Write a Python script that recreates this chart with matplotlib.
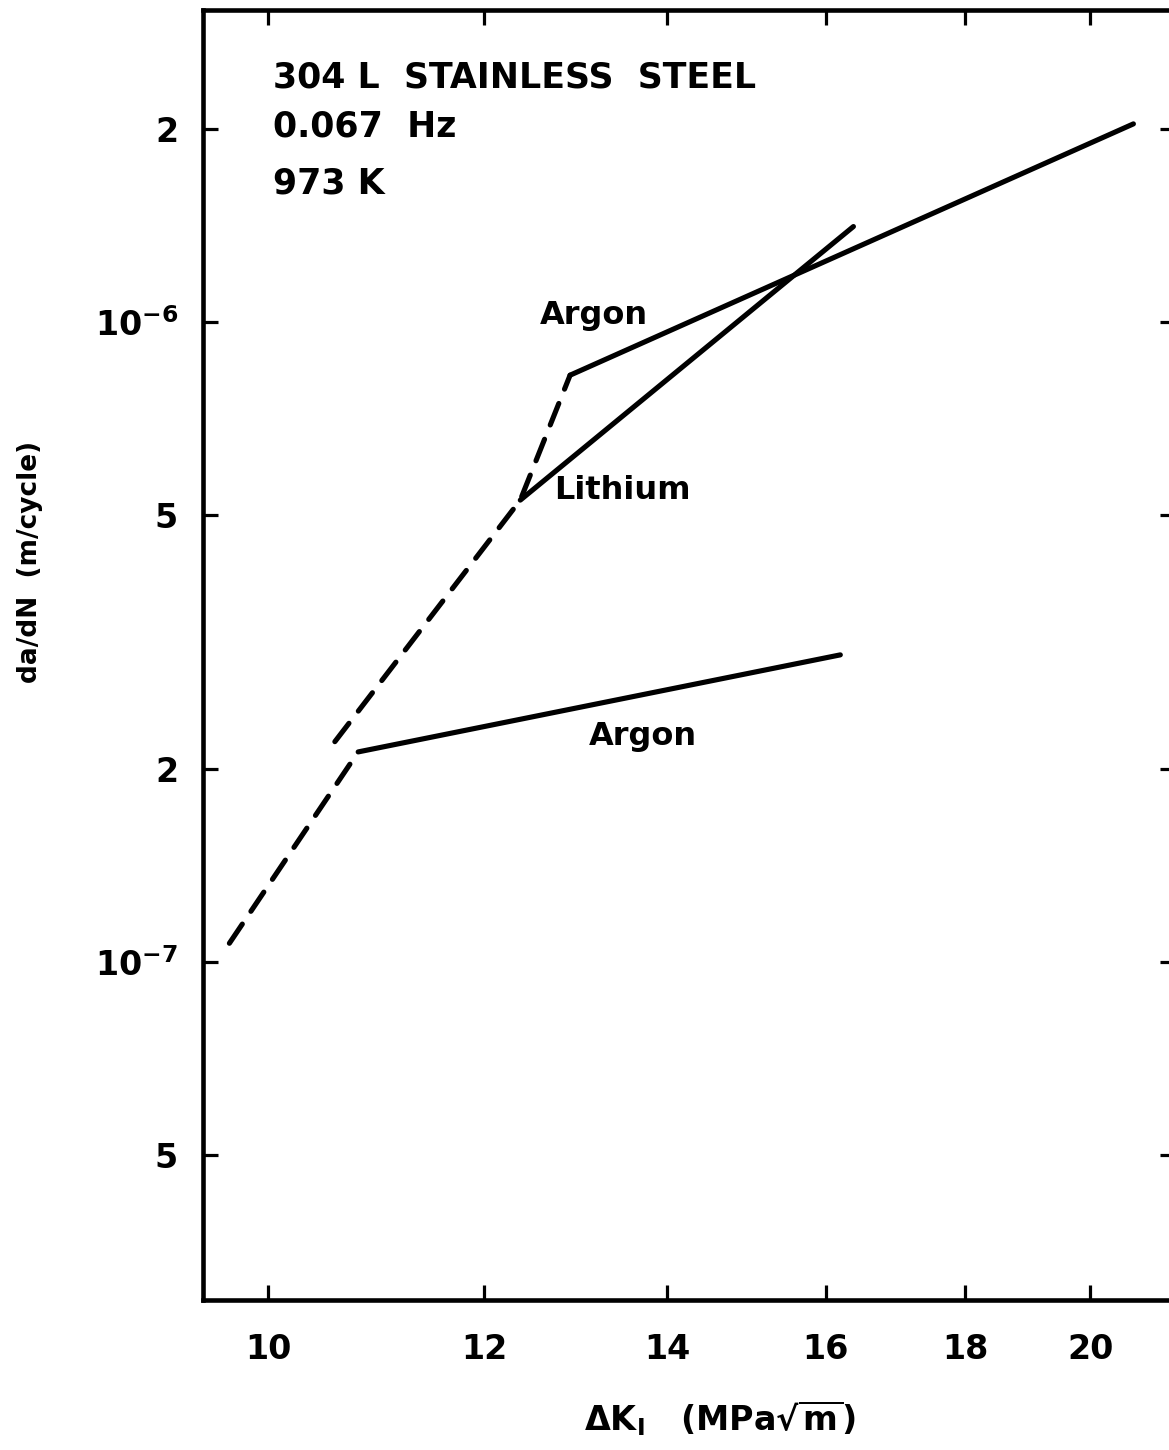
import matplotlib
matplotlib.use("Agg")
import matplotlib.pyplot as plt
from matplotlib.ticker import NullLocator, FixedLocator, FixedFormatter

plt.rcParams['font.family'] = ['DejaVu Sans']
plt.rcParams['font.weight'] = 'bold'
plt.rcParams['axes.labelweight'] = 'bold'
plt.rcParams['mathtext.default'] = 'regular'

# data (delta K in MPa*sqrt(m), da/dN in m/cycle)
argon_hi_dk = [12.90, 20.74]
argon_hi_rate = [8.26e-7, 2.04e-6]
lithium_dk = [12.37, 16.38]
lithium_rate = [5.27e-7, 1.41e-6]
argon_lo_dk = [10.79, 16.20]
argon_lo_rate = [2.13e-7, 3.02e-7]
dash_hi_dk = [10.58, 12.37, 12.90]
dash_hi_rate = [2.21e-7, 5.27e-7, 8.26e-7]
dash_lo_dk = [9.68, 10.79]
dash_lo_rate = [1.07e-7, 2.13e-7]

x_ticks = [10, 12, 14, 16, 18, 20]
y_ticks = [5e-8, 1e-7, 2e-7, 5e-7, 1e-6, 2e-6]
y_tick_labels = ['5', r'$10^{-7}$', '2', '5', r'$10^{-6}$', '2']

fig = plt.figure(figsize=(11.69, 14.5), dpi=100)
ax = fig.add_axes([203 / 1169, 1 - 1300 / 1450, 972 / 1169, 1290 / 1450])
ax.set_xscale('log')
ax.set_yscale('log')
ax.set_xlim(9.467, 21.48)
ax.set_ylim(2.965e-8, 3.073e-6)

lw = 3.7
solid = dict(color='black', lw=lw, solid_capstyle='round', solid_joinstyle='round')
dashed = dict(color='black', lw=lw, ls=(0, (4.5, 3)), dash_capstyle='round')

ax.plot(argon_hi_dk, argon_hi_rate, **solid)
ax.plot(lithium_dk, lithium_rate, **solid)
ax.plot(argon_lo_dk, argon_lo_rate, **solid)
ax.plot(dash_hi_dk, dash_hi_rate, **dashed)
ax.plot(dash_lo_dk, dash_lo_rate, **dashed)

ax.text(13.16, 1.025e-6, 'Argon', fontsize=23, ha='center', va='center')
ax.text(13.48, 5.46e-7, 'Lithium', fontsize=23, ha='center', va='center')
ax.text(13.72, 2.25e-7, 'Argon', fontsize=23, ha='center', va='center')

ax.text(0.072, 0.9403, '304 L  STAINLESS  STEEL', fontsize=25, transform=ax.transAxes, va='baseline')
ax.text(0.072, 0.9016, '0.067  Hz', fontsize=25, transform=ax.transAxes, va='baseline')
ax.text(0.072, 0.8581, '973 K', fontsize=25, transform=ax.transAxes, va='baseline')

ax.xaxis.set_major_locator(FixedLocator(x_ticks))
ax.xaxis.set_major_formatter(FixedFormatter([str(t) for t in x_ticks]))
ax.xaxis.set_minor_locator(NullLocator())
ax.yaxis.set_major_locator(FixedLocator(y_ticks))
ax.yaxis.set_major_formatter(FixedFormatter(y_tick_labels))
ax.yaxis.set_minor_locator(NullLocator())

ax.tick_params(which='major', direction='in', top=True, right=True,
               length=11, width=2.3, labelsize=24)
ax.tick_params(axis='x', pad=24)
ax.tick_params(axis='y', pad=18)
for s in ax.spines.values():
    s.set_linewidth(3.3)

ax.set_xlabel(r'$\Delta K_{\mathrm{I}}$   (MPa$\sqrt{\mathregular{m}}$)', fontsize=24)
ax.xaxis.set_label_coords(0.532, -0.0915)
ax.xaxis.label.set_va('center')
ax.set_ylabel('da/dN  (m/cycle)', fontsize=19)
ax.yaxis.set_label_coords(-0.178, 0.572)
ax.yaxis.label.set_va('center')

fig.savefig('out.png', dpi=100)
